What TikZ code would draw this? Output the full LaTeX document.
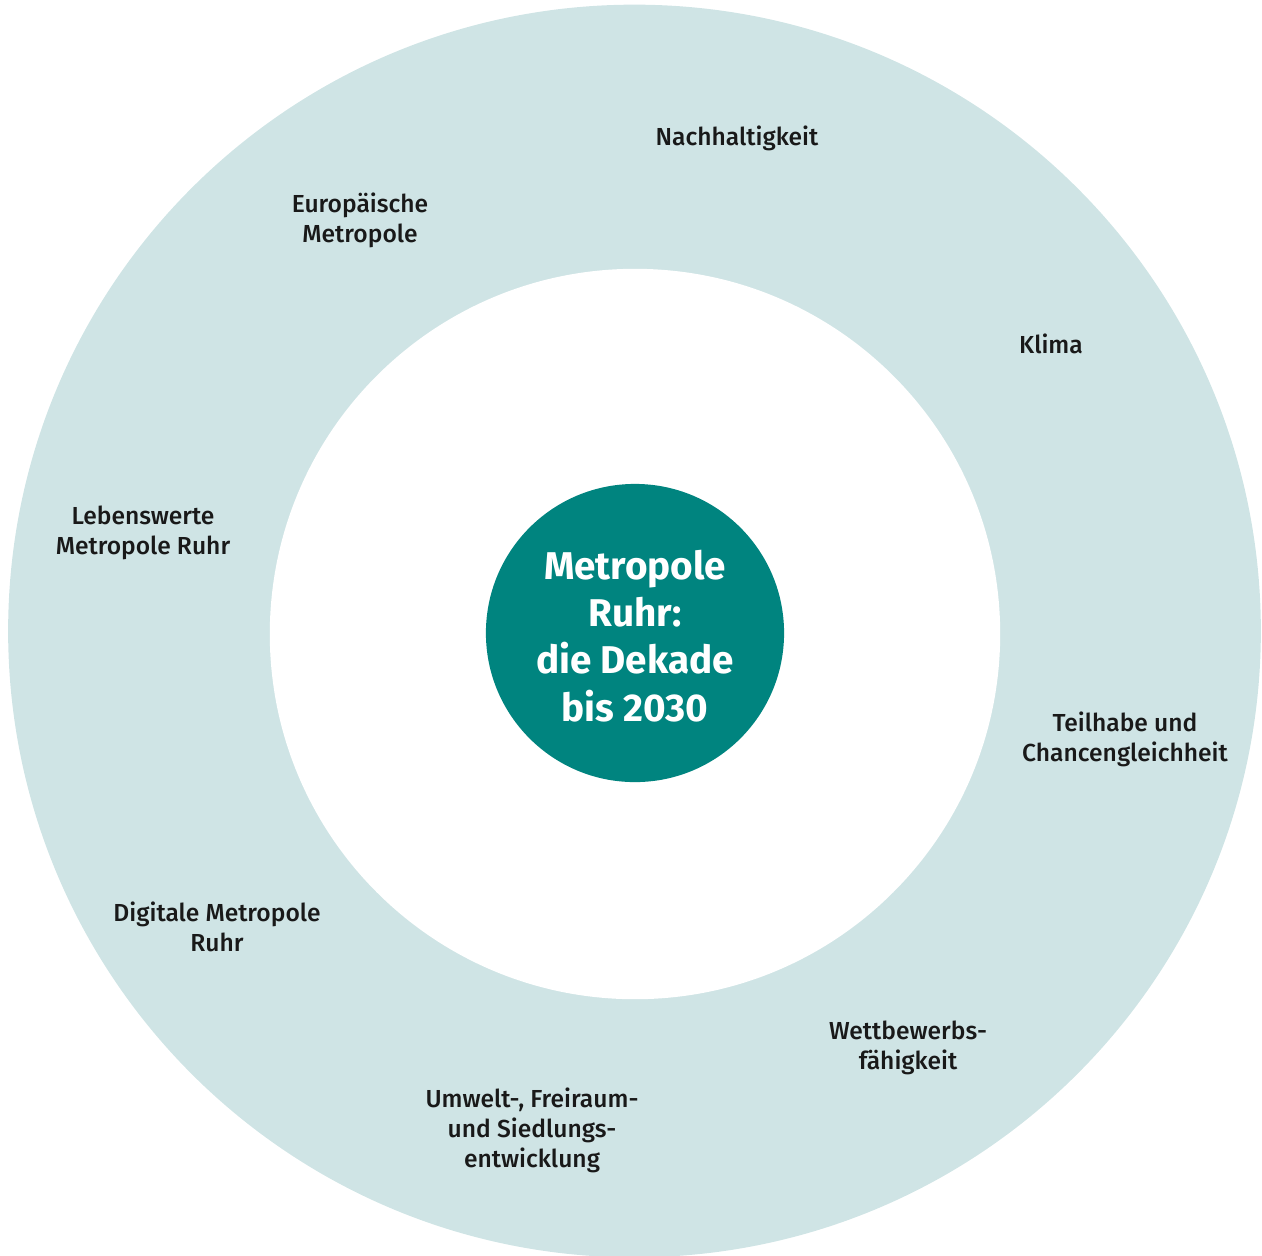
\documentclass[tikz,border=0pt]{standalone}
\usepackage{fontspec}
\setmainfont{Fira Sans}
\newfontfamily\topicfont{Fira Sans Medium}
\usepackage{tikz}
\usetikzlibrary{positioning}
\definecolor{ringblue}{RGB}{207, 228, 229}
\definecolor{ruhrteal}{RGB}{0, 132, 127}

\tikzset{
    ring/.style={circle, inner sep=0pt, draw=none},
    topic/.style={align=center, font=\topicfont\fontsize{7}{8.5}\selectfont, text=black!90},
    core/.style={ring, fill=ruhrteal, text=white, align=center,
                 font=\fontsize{11}{13.4}\selectfont\bfseries}
}

\begin{document}
\begin{tikzpicture}[x=0.01cm, y=-0.01cm]
            % Frame to ensure alignment:
            \useasboundingbox (0,0) rectangle (1262,1256);
            % Rings
            \node[ring, fill=ringblue, minimum size=12.52cm] (outer) at (634.5, 631) {};
            \node[ring, fill=white,    minimum size=7.30cm]  (inner) at (635, 634) {};
            % Centre
            \node[ring, fill=ruhrteal, minimum size=2.98cm] (centre) at (635, 633) {};
            \node[core] (title) at (635, 636) {Metropole\\Ruhr:\\die Dekade\\bis 2030};
            % Topics, clockwise from the top
            \node[topic] (nachhaltigkeit) at ( 737, 138) {Nachhaltigkeit};
            \node[topic] (klima)          at (1051, 344) {Klima};
            \node[topic] (teilhabe)       at (1125, 739) {Teilhabe und\\Chancengleichheit};
            \node[topic] (wettbewerb)     at ( 908,1048) {Wettbewerbs-\\fähigkeit};
            \node[topic] (umwelt)         at ( 532,1130) {Umwelt-, Freiraum-\\und Siedlungs-\\entwicklung};
            \node[topic] (digital)        at ( 217, 927) {Digitale Metropole\\Ruhr};
            \node[topic] (lebenswert)     at ( 143, 533) {Lebenswerte\\Metropole Ruhr};
            \node[topic] (europa)         at ( 360, 220) {Europäische\\Metropole};
        \end{tikzpicture}
\end{document}
